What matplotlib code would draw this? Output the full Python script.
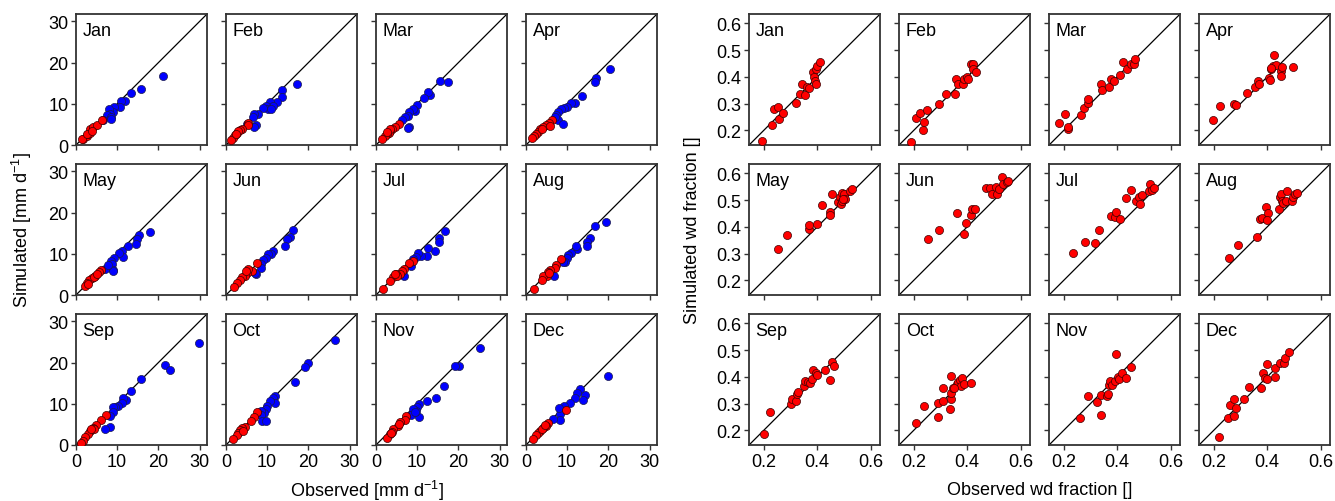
import numpy as np
import matplotlib
matplotlib.use("Agg")
import matplotlib.pyplot as plt

plt.rcParams['font.family'] = ['Liberation Sans', 'DejaVu Sans']
plt.rcParams['mathtext.fontset'] = 'custom'
plt.rcParams['mathtext.rm'] = 'Liberation Sans'
plt.rcParams['mathtext.it'] = 'Liberation Sans:italic'

MONTHS = ["Jan", "Feb", "Mar", "Apr", "May", "Jun",
          "Jul", "Aug", "Sep", "Oct", "Nov", "Dec"]

# precipitation, low-rainfall stations (red): observed / simulated [mm d-1]
p_low_obs = {
    "Jan": [1.8, 2.6, 3.0, 3.4, 3.5, 4.2, 5.0, 6.2, 1.5, 2.7, 3.8],
    "Feb": [5.4, 5.4, 3.8, 3.4, 2.7, 2.2, 1.8, 1.1, 3.0, 2.4],
    "Mar": [5.5, 4.7, 3.9, 3.5, 3.1, 2.7, 2.3, 1.5, 3.3, 2.8],
    "Apr": [6.2, 5.6, 4.8, 4.2, 3.4, 3.0, 2.4, 1.9, 1.4, 5.8, 3.8],
    "May": [6.0, 5.5, 4.6, 3.9, 3.2, 2.6, 2.3, 2.8, 4.4, 5.0],
    "Jun": [7.6, 6.2, 5.0, 4.6, 4.0, 3.4, 2.6, 2.0, 5.4, 4.8],
    "Jul": [9.0, 8.1, 6.8, 6.2, 5.8, 4.8, 4.2, 3.5, 1.8, 5.0, 4.6],
    "Aug": [8.6, 7.4, 7.0, 5.8, 5.4, 5.0, 4.2, 3.8, 1.9, 5.6],
    "Sep": [7.2, 6.1, 4.9, 4.1, 3.4, 2.9, 2.3, 1.6, 1.2, 4.3, 3.7],
    "Oct": [7.5, 6.7, 6.1, 4.7, 3.9, 3.4, 3.0, 2.6, 1.8, 4.1],
    "Nov": [7.3, 7.0, 5.8, 5.4, 4.2, 3.8, 3.4, 2.8, 3.6, 5.7],
    "Dec": [9.6, 5.4, 4.8, 4.2, 3.5, 3.0, 2.4, 1.6, 3.8, 4.6],
}
p_low_sim = {
    "Jan": [1.5, 2.2, 2.6, 3.0, 3.8, 4.4, 4.8, 6.1, 1.4, 2.8, 3.4],
    "Feb": [5.3, 4.8, 4.0, 3.7, 3.0, 2.4, 1.8, 1.2, 3.3, 2.6],
    "Mar": [5.0, 4.4, 3.8, 3.4, 3.0, 2.6, 2.2, 1.4, 3.8, 3.2],
    "Apr": [6.1, 5.3, 4.8, 4.5, 3.8, 3.2, 2.6, 2.2, 1.8, 4.6, 4.0],
    "May": [6.1, 5.5, 4.5, 4.1, 3.7, 2.8, 2.1, 2.6, 4.3, 5.0],
    "Jun": [7.8, 5.9, 5.4, 4.7, 4.4, 3.7, 2.9, 2.0, 6.2, 5.8],
    "Jul": [8.2, 7.8, 6.2, 5.8, 5.2, 5.0, 4.3, 3.3, 1.5, 4.7, 5.2],
    "Aug": [8.7, 7.3, 6.5, 6.0, 5.5, 4.7, 4.5, 3.6, 1.5, 5.4],
    "Sep": [7.2, 6.1, 4.9, 4.2, 3.4, 2.6, 2.0, 1.0, 0.6, 3.8, 3.8],
    "Oct": [7.9, 6.7, 5.9, 4.4, 4.2, 3.6, 2.8, 2.4, 1.4, 3.4],
    "Nov": [7.1, 6.1, 5.6, 4.5, 3.8, 3.2, 2.6, 1.8, 3.0, 5.0],
    "Dec": [8.5, 5.3, 4.6, 4.2, 3.4, 2.8, 2.4, 1.5, 3.8, 4.8],
}

# precipitation, high-rainfall stations (blue)
p_high_obs = {
    "Jan": [21.1, 15.8, 13.3, 12.0, 11.0, 10.8, 9.2, 8.9, 8.1, 8.2, 7.6, 8.6, 8.4, 6.6],
    "Feb": [17.3, 13.5, 13.6, 12.4, 10.6, 11.3, 9.8, 10.1, 9.0, 11.0, 7.8, 6.9, 6.6, 7.3, 6.9, 5.0],
    "Mar": [17.5, 15.6, 13.1, 12.7, 11.7, 9.9, 9.5, 9.1, 8.1, 7.7, 7.1, 6.3, 8.1, 7.7],
    "Apr": [20.5, 17.1, 16.7, 13.7, 12.0, 11.0, 10.0, 9.3, 8.5, 7.8, 7.4, 7.8, 9.0, 7.0],
    "May": [17.9, 15.2, 14.7, 14.5, 12.7, 11.2, 11.3, 10.4, 9.3, 8.5, 8.8, 8.9, 8.9, 7.1, 7.7],
    "Jun": [16.3, 15.6, 14.7, 14.3, 11.5, 11.0, 10.1, 9.8, 9.0, 8.6, 8.6, 7.4, 7.0],
    "Jul": [16.7, 15.3, 15.3, 14.3, 12.7, 12.3, 11.0, 10.2, 9.7, 9.0, 8.4, 6.8],
    "Aug": [19.4, 16.7, 15.5, 14.8, 14.7, 12.4, 12.1, 11.0, 10.2, 10.0, 9.4, 9.0, 6.8],
    "Sep": [29.8, 21.7, 22.9, 15.8, 13.4, 12.1, 11.5, 11.1, 10.2, 9.4, 9.0, 9.0, 8.2, 8.2, 7.0],
    "Oct": [26.4, 20.0, 19.2, 16.8, 12.0, 11.5, 12.0, 10.7, 10.0, 9.6, 9.2, 8.4, 8.6, 8.8, 9.6],
    "Nov": [25.3, 20.2, 19.2, 16.6, 14.5, 12.5, 10.5, 10.5, 10.0, 9.6, 9.0, 8.5, 9.4],
    "Dec": [19.8, 14.4, 13.8, 13.0, 12.3, 11.8, 10.6, 9.2, 8.6, 8.3, 8.2, 6.6, 8.0],
}
p_high_sim = {
    "Jan": [16.8, 13.6, 12.6, 10.7, 10.7, 9.3, 9.3, 7.9, 8.7, 7.6, 7.2, 6.7, 6.3, 6.1],
    "Feb": [14.8, 13.3, 11.7, 10.5, 10.5, 9.5, 9.5, 8.7, 8.9, 8.7, 7.5, 7.5, 6.7, 4.8, 4.5, 5.0],
    "Mar": [15.2, 15.6, 12.2, 12.8, 11.4, 9.7, 8.3, 8.7, 7.9, 7.1, 6.7, 6.0, 4.5, 4.2],
    "Apr": [18.5, 16.2, 15.2, 12.0, 10.1, 10.3, 9.3, 8.9, 8.7, 8.0, 7.2, 6.1, 5.2, 6.7],
    "May": [15.4, 14.5, 13.5, 12.4, 12.0, 10.6, 9.3, 10.2, 9.1, 8.2, 7.6, 6.1, 5.8, 6.4, 7.3],
    "Jun": [15.8, 14.1, 13.5, 11.9, 10.6, 10.0, 9.9, 9.0, 8.4, 7.6, 6.6, 5.0, 5.4],
    "Jul": [15.5, 13.9, 12.9, 10.8, 11.4, 9.4, 9.4, 10.2, 9.3, 8.8, 7.0, 4.6],
    "Aug": [17.7, 16.7, 13.9, 12.9, 11.9, 11.1, 11.9, 10.3, 9.6, 9.1, 8.0, 8.0, 4.6],
    "Sep": [24.7, 19.5, 18.3, 16.0, 13.0, 10.8, 11.4, 10.3, 9.5, 9.1, 9.1, 7.9, 7.1, 4.4, 4.0],
    "Oct": [25.4, 19.9, 18.9, 15.4, 12.0, 11.4, 10.3, 10.7, 9.5, 8.7, 7.7, 8.3, 7.2, 5.9, 5.9],
    "Nov": [23.5, 19.1, 19.1, 14.4, 11.4, 10.7, 9.9, 6.7, 9.1, 8.3, 8.7, 7.2, 7.9],
    "Dec": [16.8, 12.1, 11.0, 13.7, 12.6, 11.5, 10.2, 9.5, 8.3, 7.5, 6.1, 6.4, 8.9],
}

# wet-day fraction: observed / simulated
wd_obs = {
    "Jan": [0.194, 0.231, 0.240, 0.254, 0.256, 0.271, 0.319, 0.334, 0.344, 0.353,
            0.363, 0.369, 0.385, 0.388, 0.390, 0.394, 0.394, 0.400, 0.410],
    "Feb": [0.188, 0.209, 0.223, 0.250, 0.238, 0.235, 0.294, 0.319, 0.354, 0.359,
            0.366, 0.384, 0.388, 0.398, 0.403, 0.413, 0.423, 0.421, 0.431],
    "Mar": [0.184, 0.206, 0.215, 0.216, 0.266, 0.277, 0.291, 0.292, 0.339, 0.343,
            0.370, 0.378, 0.389, 0.411, 0.420, 0.436, 0.451, 0.461, 0.467],
    "Apr": [0.198, 0.225, 0.275, 0.283, 0.324, 0.355, 0.365, 0.371, 0.405, 0.409,
            0.414, 0.421, 0.424, 0.434, 0.452, 0.452, 0.455, 0.498, 0.414],
    "May": [0.253, 0.285, 0.369, 0.369, 0.400, 0.419, 0.446, 0.448, 0.454, 0.478,
            0.484, 0.488, 0.494, 0.491, 0.500, 0.503, 0.521, 0.531, 0.498],
    "Jun": [0.253, 0.294, 0.363, 0.394, 0.388, 0.415, 0.419, 0.428, 0.469, 0.485,
            0.494, 0.506, 0.510, 0.519, 0.531, 0.535, 0.548, 0.553],
    "Jul": [0.235, 0.281, 0.318, 0.333, 0.376, 0.390, 0.395, 0.411, 0.432, 0.451,
            0.469, 0.483, 0.486, 0.492, 0.520, 0.523, 0.529, 0.538],
    "Aug": [0.258, 0.291, 0.361, 0.374, 0.380, 0.395, 0.402, 0.399, 0.445, 0.447,
            0.452, 0.455, 0.460, 0.474, 0.472, 0.494, 0.498, 0.504, 0.511],
    "Sep": [0.200, 0.223, 0.303, 0.304, 0.319, 0.325, 0.328, 0.350, 0.354, 0.366,
            0.373, 0.381, 0.384, 0.394, 0.400, 0.429, 0.448, 0.456, 0.463],
    "Oct": [0.210, 0.238, 0.290, 0.291, 0.310, 0.310, 0.335, 0.338, 0.340, 0.340,
            0.348, 0.363, 0.366, 0.373, 0.375, 0.381, 0.388, 0.413, 0.350],
    "Nov": [0.260, 0.291, 0.325, 0.338, 0.341, 0.361, 0.364, 0.370, 0.373, 0.380,
            0.393, 0.394, 0.404, 0.406, 0.419, 0.432, 0.451],
    "Dec": [0.221, 0.252, 0.260, 0.275, 0.275, 0.283, 0.312, 0.330, 0.378, 0.384,
            0.393, 0.399, 0.399, 0.428, 0.430, 0.446, 0.461, 0.465, 0.480],
}
wd_sim = {
    "Jan": [0.160, 0.219, 0.279, 0.287, 0.241, 0.264, 0.303, 0.335, 0.372, 0.332,
            0.362, 0.360, 0.418, 0.401, 0.385, 0.372, 0.428, 0.441, 0.456],
    "Feb": [0.156, 0.247, 0.266, 0.275, 0.231, 0.201, 0.297, 0.335, 0.335, 0.391,
            0.372, 0.372, 0.391, 0.401, 0.393, 0.447, 0.449, 0.428, 0.418],
    "Mar": [0.229, 0.260, 0.206, 0.214, 0.256, 0.282, 0.303, 0.316, 0.375, 0.351,
            0.362, 0.391, 0.385, 0.406, 0.456, 0.428, 0.449, 0.447, 0.466],
    "Apr": [0.237, 0.291, 0.300, 0.294, 0.338, 0.363, 0.385, 0.372, 0.397, 0.387,
            0.428, 0.441, 0.481, 0.444, 0.422, 0.403, 0.438, 0.438, 0.435],
    "May": [0.316, 0.370, 0.391, 0.406, 0.412, 0.482, 0.457, 0.443, 0.524, 0.493,
            0.512, 0.484, 0.528, 0.497, 0.522, 0.505, 0.534, 0.540, 0.505],
    "Jun": [0.356, 0.388, 0.451, 0.416, 0.375, 0.443, 0.468, 0.468, 0.544, 0.544,
            0.524, 0.549, 0.524, 0.543, 0.588, 0.562, 0.569, 0.572],
    "Jul": [0.303, 0.343, 0.339, 0.388, 0.441, 0.437, 0.456, 0.428, 0.509, 0.538,
            0.498, 0.512, 0.484, 0.519, 0.534, 0.562, 0.538, 0.544],
    "Aug": [0.285, 0.332, 0.363, 0.431, 0.432, 0.474, 0.451, 0.424, 0.468, 0.513,
            0.524, 0.496, 0.490, 0.534, 0.496, 0.496, 0.513, 0.522, 0.528],
    "Sep": [0.185, 0.269, 0.300, 0.316, 0.310, 0.335, 0.345, 0.366, 0.385, 0.381,
            0.375, 0.391, 0.426, 0.413, 0.407, 0.426, 0.387, 0.456, 0.441],
    "Oct": [0.229, 0.291, 0.251, 0.303, 0.310, 0.357, 0.281, 0.316, 0.341, 0.403,
            0.357, 0.372, 0.381, 0.387, 0.366, 0.394, 0.372, 0.378, 0.360],
    "Nov": [0.247, 0.328, 0.306, 0.332, 0.256, 0.328, 0.337, 0.368, 0.385, 0.370,
            0.385, 0.484, 0.401, 0.391, 0.416, 0.394, 0.438],
    "Dec": [0.175, 0.247, 0.294, 0.316, 0.254, 0.285, 0.316, 0.362, 0.360, 0.416,
            0.397, 0.391, 0.447, 0.400, 0.434, 0.453, 0.451, 0.469, 0.491],
}

P_LIM = (0, 31.8)
P_TICKS = [0, 10, 20, 30]
WD_LIM = (0.145, 0.635)
WD_TICKS = [0.2, 0.3, 0.4, 0.5, 0.6]
WD_XTICKS = [0.2, 0.4, 0.6]

FS = 13
SPINE = '#333333'


def style_axes(ax, lim, xticks, yticks, show_x, show_y, fmt):
    ax.set_xlim(lim)
    ax.set_ylim(lim)
    ax.set_xticks(xticks)
    ax.set_yticks(yticks)
    ax.set_aspect('equal', adjustable='box')
    ax.plot(lim, lim, color='black', lw=0.9, zorder=1)
    for s in ax.spines.values():
        s.set_color(SPINE)
        s.set_linewidth(1.3)
    ax.tick_params(direction='out', length=3.5, width=1.0, color=SPINE,
                   labelsize=FS, pad=2, top=False, right=False)
    ax.set_xticklabels([fmt(v) for v in xticks] if show_x else [])
    ax.set_yticklabels([fmt(v) for v in yticks] if show_y else [])


fig = plt.figure(figsize=(13.35, 5.02), dpi=100)

gs_p = fig.add_gridspec(3, 4, left=0.0569, right=0.4921, top=0.970,
                        bottom=0.1116, wspace=0.145, hspace=0.145)
gs_w = fig.add_gridspec(3, 4, left=0.5611, right=0.9963, top=0.970,
                        bottom=0.1116, wspace=0.145, hspace=0.145)

for i, m in enumerate(MONTHS):
    r, c = divmod(i, 4)

    ax = fig.add_subplot(gs_p[r, c])
    style_axes(ax, P_LIM, P_TICKS, P_TICKS, r == 2, c == 0, lambda v: f"{v:g}")
    ax.scatter(p_high_obs[m], p_high_sim[m], s=34, color='#0000ff',
               edgecolor='#1a1a4a', linewidth=0.5, zorder=3)
    ax.scatter(p_low_obs[m], p_low_sim[m], s=34, color='#ff0000',
               edgecolor='#3a0000', linewidth=0.5, zorder=3)
    ax.text(0.05, 0.94, m, transform=ax.transAxes, ha='left', va='top',
            fontsize=FS)

    ax = fig.add_subplot(gs_w[r, c])
    style_axes(ax, WD_LIM, WD_XTICKS, WD_TICKS, r == 2, c == 0,
               lambda v: f"{v:.1f}")
    ax.scatter(wd_obs[m], wd_sim[m], s=34, color='#ff0000',
               edgecolor='#3a0000', linewidth=0.5, zorder=3)
    ax.text(0.05, 0.94, m, transform=ax.transAxes, ha='left', va='top',
            fontsize=FS)

fig.text(0.0165, 0.541, r'Simulated [mm d$^{-1}$]', rotation=90,
         ha='center', va='center', fontsize=FS)
fig.text(0.2745, 0.022, r'Observed [mm d$^{-1}$]', ha='center',
         va='center', fontsize=FS)
fig.text(0.519, 0.541, 'Simulated wd fraction []', rotation=90,
         ha='center', va='center', fontsize=FS)
fig.text(0.7787, 0.022, 'Observed wd fraction []', ha='center',
         va='center', fontsize=FS)

fig.savefig('out.png', dpi=100)
